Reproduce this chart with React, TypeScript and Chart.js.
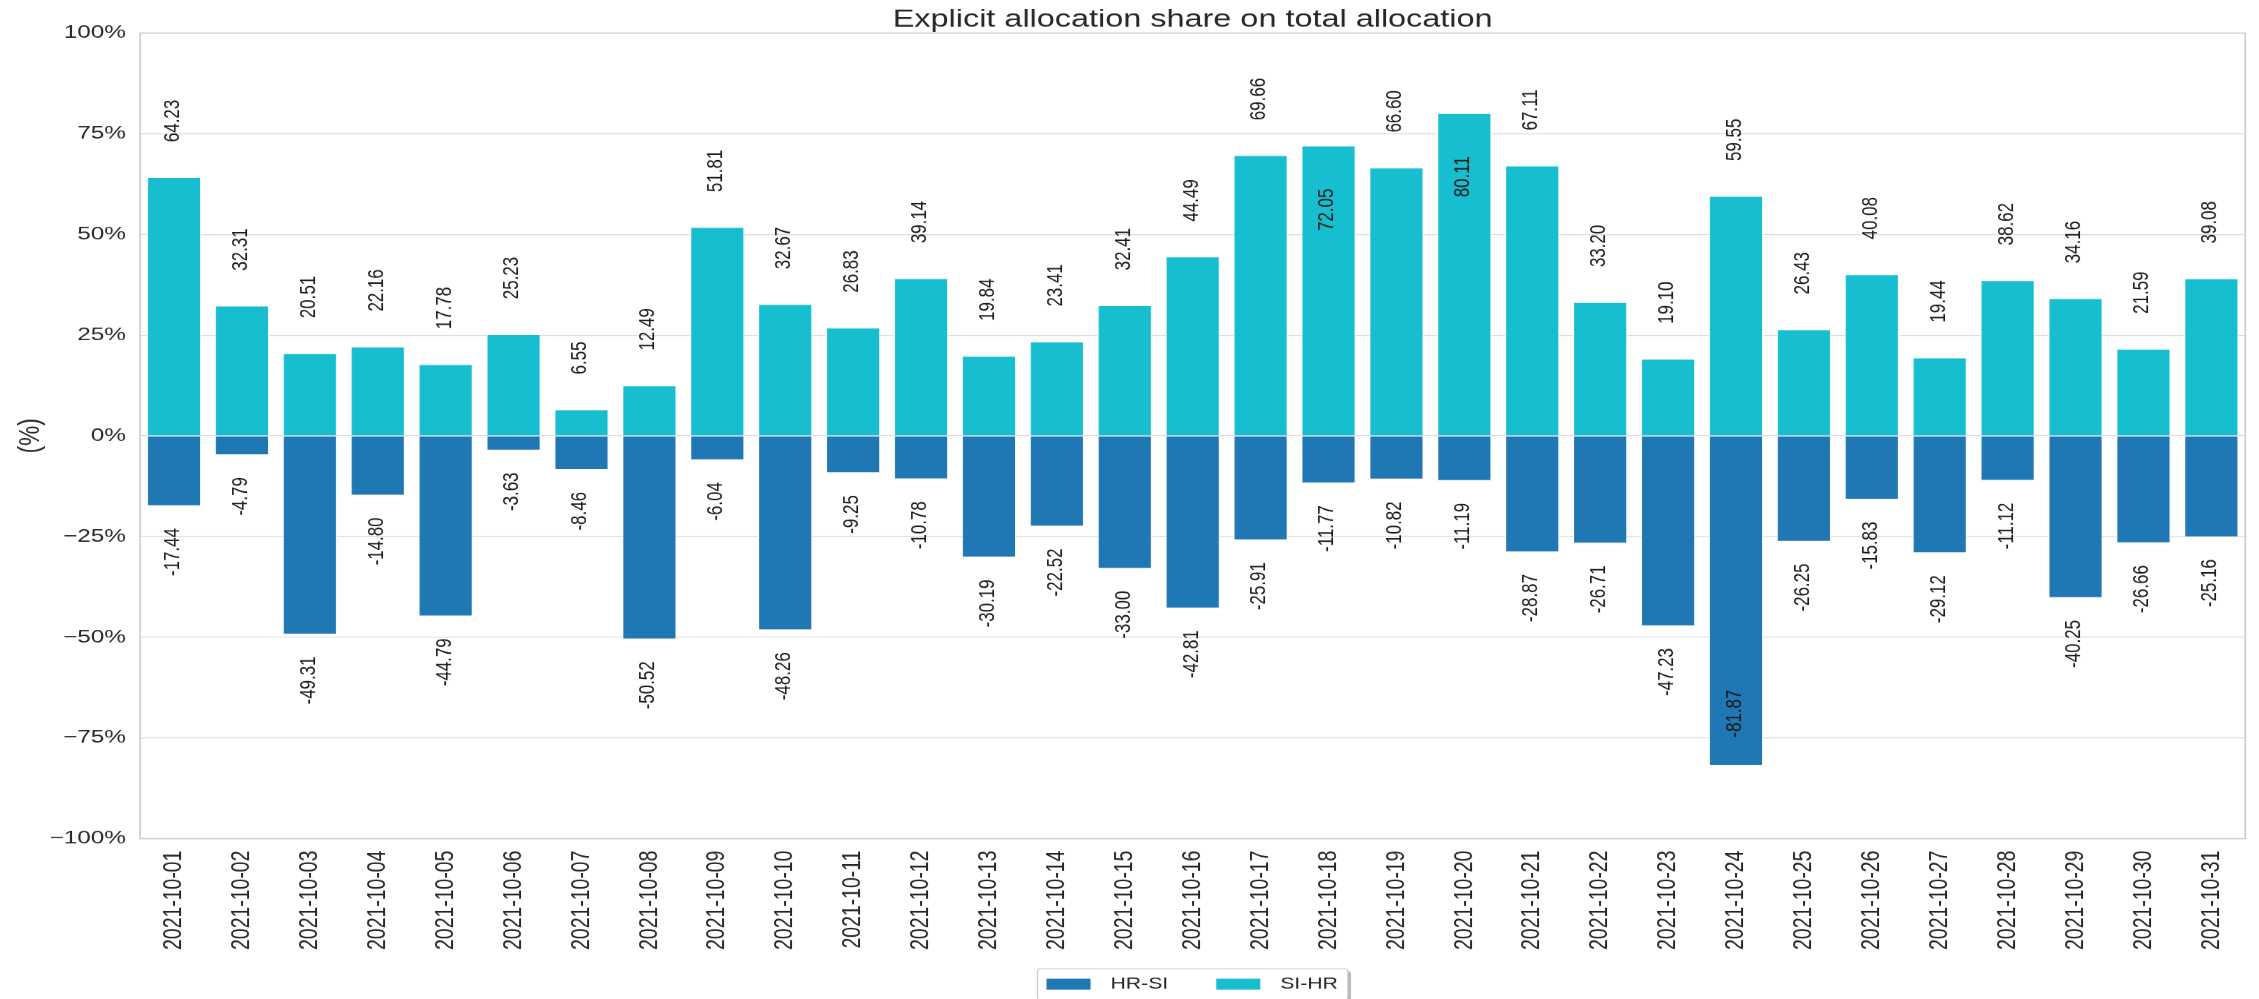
import React, { useEffect, useRef } from 'react';
import { Chart, registerables } from 'chart.js';

Chart.register(...registerables);

// ---------------- data ----------------
const dates = [
  '2021-10-01', '2021-10-02', '2021-10-03', '2021-10-04', '2021-10-05', '2021-10-06', '2021-10-07',
  '2021-10-08', '2021-10-09', '2021-10-10', '2021-10-11', '2021-10-12', '2021-10-13', '2021-10-14',
  '2021-10-15', '2021-10-16', '2021-10-17', '2021-10-18', '2021-10-19', '2021-10-20', '2021-10-21',
  '2021-10-22', '2021-10-23', '2021-10-24', '2021-10-25', '2021-10-26', '2021-10-27', '2021-10-28',
  '2021-10-29', '2021-10-30', '2021-10-31',
];

const hrSi = [
  -17.44, -4.79, -49.31, -14.80, -44.79, -3.63, -8.46, -50.52, -6.04, -48.26, -9.25, -10.78, -30.19,
  -22.52, -33.00, -42.81, -25.91, -11.77, -10.82, -11.19, -28.87, -26.71, -47.23, -81.87, -26.25,
  -15.83, -29.12, -11.12, -40.25, -26.66, -25.16,
];

const siHr = [
  64.23, 32.31, 20.51, 22.16, 17.78, 25.23, 6.55, 12.49, 51.81, 32.67, 26.83, 39.14, 19.84, 23.41,
  32.41, 44.49, 69.66, 72.05, 66.60, 80.11, 67.11, 33.20, 19.10, 59.55, 26.43, 40.08, 19.44, 38.62,
  34.16, 21.59, 39.08,
];

const yTickValues = [-100, -75, -50, -25, 0, 25, 50, 75, 100];
const seriesNames = ['HR-SI', 'SI-HR'];
const seriesColors = ['#1f77b4', '#17becf'];
const titleText = 'Explicit allocation share on total allocation';
const yAxisLabel = '(%)';

// ---------------- styling ----------------
const STRETCH = 1.3503; // the reference is horizontally stretched
const W = 1673;
const H = 999;
const FONT = '"Liberation Sans", Arial, Helvetica, sans-serif';
const TEXT = '#262626';

const decorPlugin = {
  id: 'decor',
  beforeDatasetsDraw(chart: any) {
    const { ctx, chartArea: a } = chart;
    ctx.save();
    ctx.strokeStyle = '#cccccc';
    ctx.lineWidth = 1.2;
    ctx.strokeRect(a.left, a.top, a.right - a.left, a.bottom - a.top);
    ctx.restore();
  },
  afterDatasetsDraw(chart: any) {
    const { ctx } = chart;
    ctx.save();
    ctx.fillStyle = '#1a1a1a';
    ctx.font = `16.9px ${FONT}`;
    chart.data.datasets.forEach((ds: any, di: number) => {
      const meta = chart.getDatasetMeta(di);
      meta.data.forEach((bar: any, i: number) => {
        const v = ds.data[i] as number;
        const { x, y } = bar.getProps(['x', 'y'], true);
        const inside = Math.abs(v) > 70;
        let ay: number;
        let align: CanvasTextAlign;
        if (v >= 0) {
          if (!inside) { ay = y - 35; align = 'left'; } else { ay = y + 43; align = 'right'; }
        } else {
          if (!inside) { ay = y + 22; align = 'right'; } else { ay = y - 28; align = 'left'; }
        }
        ctx.save();
        ctx.translate(x - 1, ay);
        ctx.rotate(-Math.PI / 2);
        ctx.textAlign = align;
        ctx.textBaseline = 'middle';
        ctx.fillText(v.toFixed(2), 0, 0);
        ctx.restore();
      });
    });
    ctx.restore();
  },
  afterDraw(chart: any) {
    const { ctx, chartArea: a } = chart;
    const cx = (a.left + a.right) / 2;
    ctx.save();
    // title
    ctx.fillStyle = TEXT;
    ctx.font = `24px ${FONT}`;
    ctx.textAlign = 'center';
    ctx.textBaseline = 'alphabetic';
    ctx.fillText(titleText, cx, 27);

    // y-axis label
    ctx.save();
    ctx.translate(23, (a.top + a.bottom) / 2);
    ctx.rotate(-Math.PI / 2);
    ctx.font = `22.5px ${FONT}`;
    ctx.textAlign = 'center';
    ctx.textBaseline = 'middle';
    ctx.fillText(yAxisLabel, 0, 0);
    ctx.restore();

    // legend
    ctx.font = `15.7px ${FONT}`;
    const tw = seriesNames.map((n) => ctx.measureText(n).width);
    const padL = 6.7, sw = 32.6, sh = 11, gap = 14.8, col = 35.6, padR = 7.4;
    const total = padL + sw + gap + tw[0] + col + sw + gap + tw[1] + padR;
    const left = cx - total / 2;
    const top = 968;
    const fh = 31.5;
    const r = 3;
    const rr = (x: number, y: number, w: number, h: number) => {
      ctx.beginPath();
      ctx.moveTo(x + r, y);
      ctx.lineTo(x + w - r, y);
      ctx.quadraticCurveTo(x + w, y, x + w, y + r);
      ctx.lineTo(x + w, y + h - r);
      ctx.quadraticCurveTo(x + w, y + h, x + w - r, y + h);
      ctx.lineTo(x + r, y + h);
      ctx.quadraticCurveTo(x, y + h, x, y + h - r);
      ctx.lineTo(x, y + r);
      ctx.quadraticCurveTo(x, y, x + r, y);
      ctx.closePath();
    };
    ctx.fillStyle = 'rgba(0,0,0,0.3)';
    rr(left + 2.2, top + 2.2, total, fh);
    ctx.fill();
    ctx.fillStyle = '#ffffff';
    ctx.strokeStyle = '#cccccc';
    ctx.lineWidth = 1;
    rr(left, top, total, fh);
    ctx.fill();
    ctx.stroke();

    let x = left + padL;
    seriesNames.forEach((n, i) => {
      ctx.fillStyle = seriesColors[i];
      ctx.fillRect(x, top + 10, sw, sh);
      x += sw + gap;
      ctx.fillStyle = TEXT;
      ctx.textAlign = 'left';
      ctx.textBaseline = 'middle';
      ctx.fillText(n, x, top + 15.8);
      x += tw[i] + col;
    });
    ctx.restore();
  },
};

export default function App() {
  const ref = useRef<HTMLCanvasElement>(null);

  useEffect(() => {
    document.body.style.margin = '0';
    document.body.style.overflow = 'hidden';
    const chart = new Chart(ref.current as HTMLCanvasElement, {
      type: 'bar',
      data: {
        labels: dates,
        datasets: [
          {
            label: seriesNames[0],
            data: hrSi,
            backgroundColor: seriesColors[0],
            borderColor: '#ffffff',
            borderWidth: 0.8,
            barPercentage: 0.8,
            categoryPercentage: 1.0,
          },
          {
            label: seriesNames[1],
            data: siHr,
            backgroundColor: seriesColors[1],
            borderColor: '#ffffff',
            borderWidth: 0.8,
            barPercentage: 0.8,
            categoryPercentage: 1.0,
          },
        ],
      },
      options: {
        animation: false,
        responsive: true,
        maintainAspectRatio: false,
        devicePixelRatio: STRETCH,
        layout: { padding: { top: 33, right: 4.3, bottom: 0, left: 0 } },
        plugins: {
          legend: { display: false },
          title: { display: false },
          tooltip: { enabled: false },
        },
        scales: {
          x: {
            stacked: true,
            grid: { display: false, drawTicks: false },
            border: { display: false },
            ticks: {
              autoSkip: false,
              minRotation: 90,
              maxRotation: 90,
              padding: 12,
              color: TEXT,
              font: { family: FONT, size: 19.4 },
            },
            afterFit(s: any) { s.height = 161; },
          },
          y: {
            stacked: true,
            min: -100,
            max: 100,
            afterBuildTicks(s: any) { s.ticks = yTickValues.map((v) => ({ value: v })); },
            grid: { color: '#d9d9d9', lineWidth: 1, drawTicks: false },
            border: { display: false },
            ticks: {
              padding: 10.4,
              color: TEXT,
              font: { family: FONT, size: 18 },
              callback: (v: any) => (Number(v) < 0 ? '\u2212' : '') + Math.abs(Number(v)) + '%',
            },
            afterFit(s: any) { s.width = 103.7; },
          },
        },
      },
      plugins: [decorPlugin],
    });
    return () => chart.destroy();
  }, []);

  return (
    <div
      style={{
        width: W,
        height: H,
        position: 'relative',
        transform: `scaleX(${STRETCH})`,
        transformOrigin: '0 0',
      }}
    >
      <canvas ref={ref} />
    </div>
  );
}
